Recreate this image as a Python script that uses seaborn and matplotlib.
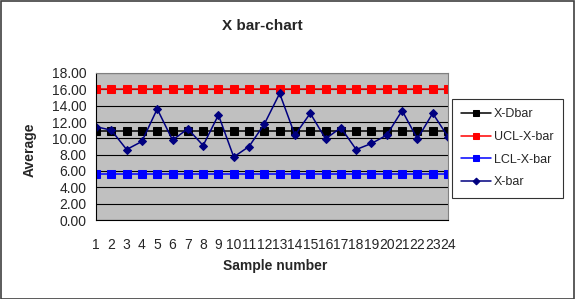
import matplotlib
matplotlib.use("Agg")
import matplotlib.pyplot as plt
import seaborn as sns
import pandas as pd
from matplotlib.patches import Rectangle

samples = list(range(1, 25))
xbar = [11.42, 11.0, 8.63, 9.62, 13.6, 9.78, 11.17, 9.12, 12.86, 7.72, 9.0, 11.75,
        15.5, 10.4, 13.07, 9.94, 11.3, 8.63, 9.37, 10.4, 13.4, 9.94, 13.07, 10.19]
xdbar_value = 10.92
ucl_value = 16.07
lcl_value = 5.65
y_ticks = [0, 2, 4, 6, 8, 10, 12, 14, 16, 18]

df = pd.DataFrame({
    "Sample": samples,
    "X-Dbar": [xdbar_value] * len(samples),
    "UCL-X-bar": [ucl_value] * len(samples),
    "LCL-X-bar": [lcl_value] * len(samples),
    "X-bar": xbar,
})

sns.set_style("white")
plt.rcParams["font.family"] = ["Liberation Sans", "DejaVu Sans"]

W, H = 575, 299
fig = plt.figure(figsize=(W / 100, H / 100), dpi=100)
ax = fig.add_axes([96 / W, 1 - 220 / H, (448 - 96) / W, (220 - 73) / H])
ax.set_facecolor("#C0C0C0")

styles = [
    ("X-Dbar", "#000000", "s", 5.8),
    ("UCL-X-bar", "#FF0000", "s", 5.3),
    ("LCL-X-bar", "#0000FF", "s", 5.8),
    ("X-bar", "#000080", "D", 4.3),
]
for name, color, marker, ms in styles:
    sns.lineplot(data=df, x="Sample", y=name, ax=ax, color=color, marker=marker,
                 markersize=ms, markeredgecolor=color, linewidth=1.1, label=name)

ax.set_xlim(1, 24)
ax.set_ylim(0, 18)
ax.set_yticks(y_ticks)
ax.set_yticklabels([f"{v:.2f}" for v in y_ticks], fontsize=10)
ax.set_xticks(samples)
ax.set_xticklabels([str(s) for s in samples], fontsize=10)
ax.tick_params(axis="x", direction="out", length=4, width=0.8, color="black", pad=9)
ax.tick_params(axis="y", direction="out", length=4, width=0.8, color="black", pad=3)
ax.grid(axis="y", color="black", linewidth=0.8)
ax.grid(axis="x", visible=False)
ax.set_axisbelow(True)
for side in ["top", "right"]:
    ax.spines[side].set_color("#808080")
    ax.spines[side].set_linewidth(0.8)
for side in ["left", "bottom"]:
    ax.spines[side].set_color("black")
    ax.spines[side].set_linewidth(0.8)

ax.set_xlabel("")
ax.set_ylabel("")
fig.text(275 / W, 1 - 266 / H, "Sample number", ha="center", va="center",
         fontsize=10, fontweight="bold")
fig.text(30 / W, 1 - 150 / H, "Average", ha="center", va="center",
         fontsize=10, fontweight="bold", rotation=90)
fig.text(262 / W, 1 - 26 / H, "X bar-chart", ha="center", va="center",
         fontsize=11, fontweight="bold")

leg = ax.legend(loc="upper left", bbox_to_anchor=(452 / W, 1 - 99 / H),
                bbox_transform=fig.transFigure, frameon=True, fancybox=False,
                fontsize=9, handlelength=2.4, labelspacing=0.85,
                borderpad=0.75, handletextpad=0.2, borderaxespad=0,
                markerscale=0.8)
leg.get_frame().set_edgecolor("black")
leg.get_frame().set_linewidth(0.8)

fig.patches.append(Rectangle((0.5 / W, 0.5 / H), 1 - 1.5 / W, 1 - 1.5 / H,
                             transform=fig.transFigure, fill=False,
                             edgecolor="#404040", linewidth=1.2))

fig.savefig("out.png", dpi=100)
